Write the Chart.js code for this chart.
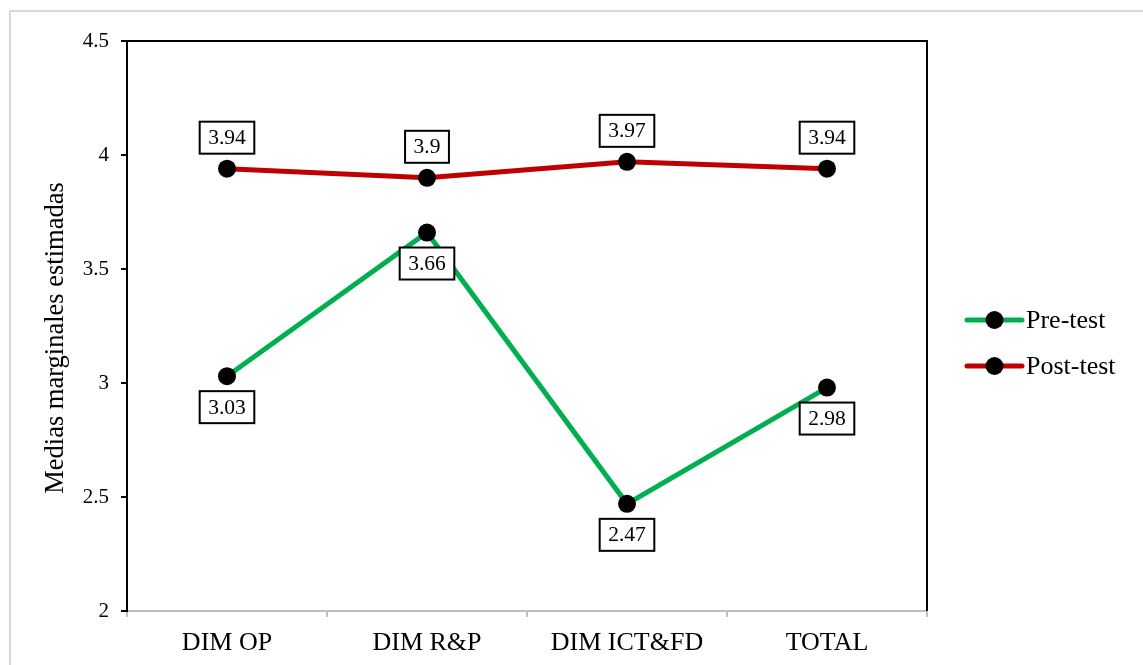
<!DOCTYPE html>
<html>
<head>
<meta charset="utf-8">
<script src="https://cdn.jsdelivr.net/npm/chart.js@4/dist/chart.umd.min.js"></script>
<style>
  html, body { margin: 0; padding: 0; background: #fff; }
  #wrap { width: 1143px; height: 665px; position: relative; }
</style>
</head>
<body>
<div id="wrap"><canvas id="c" width="1143" height="665"></canvas></div>
<script>
const categories = ['DIM OP', 'DIM R&P', 'DIM ICT&FD', 'TOTAL'];
const preTest = [3.03, 3.66, 2.47, 2.98];
const postTest = [3.94, 3.9, 3.97, 3.94];
const yTicks = [2, 2.5, 3, 3.5, 4, 4.5];
const yTitle = 'Medias marginales estimadas';

const SERIF = '"Liberation Serif", "Times New Roman", serif';

// Outer frame, plot border, axis title and boxed value labels
const decorations = {
  id: 'decorations',
  beforeDraw(chart) {
    const ctx = chart.ctx;
    ctx.save();
    ctx.fillStyle = '#fff';
    ctx.fillRect(0, 0, chart.width, chart.height);
    ctx.strokeStyle = '#d9d9d9';
    ctx.lineWidth = 2;
    ctx.strokeRect(10, 11, chart.width + 20, chart.height + 20);

    // vertical axis title, centred slightly below the plot middle
    const a = chart.chartArea;
    ctx.translate(56, (a.top + a.bottom) / 2 + 12);
    ctx.rotate(-Math.PI / 2);
    ctx.font = '26.5px ' + SERIF;
    ctx.fillStyle = '#000';
    ctx.textAlign = 'center';
    ctx.textBaseline = 'middle';
    ctx.fillText(yTitle, 0, 0);
    ctx.restore();
  },
  afterDatasetsDraw(chart) {
    const ctx = chart.ctx;
    const a = chart.chartArea;
    ctx.save();
    ctx.strokeStyle = '#000';
    ctx.lineWidth = 2;
    ctx.beginPath();
    ctx.moveTo(a.left, a.top);
    ctx.lineTo(a.right, a.top);
    ctx.lineTo(a.right, a.bottom);
    ctx.stroke();

    ctx.font = '21.5px ' + SERIF;
    ctx.textAlign = 'center';
    ctx.textBaseline = 'middle';
    chart.data.datasets.forEach((ds, di) => {
      const meta = chart.getDatasetMeta(di);
      const above = ds.labelPos === 'above';
      meta.data.forEach((pt, i) => {
        const txt = String(ds.data[i]);
        const w = ctx.measureText(txt).width + 17;
        const h = 32;
        const cx = pt.x;
        const cy = above ? pt.y - 15 - h / 2 : pt.y + 15 + h / 2;
        ctx.fillStyle = '#fff';
        ctx.fillRect(cx - w / 2, cy - h / 2, w, h);
        ctx.strokeStyle = '#000';
        ctx.lineWidth = 2;
        ctx.strokeRect(cx - w / 2, cy - h / 2, w, h);
        ctx.fillStyle = '#000';
        ctx.fillText(txt, cx, cy + 1);
      });
    });
    ctx.restore();
  },
  afterDraw(chart) {
    // Legend: line sample with dot marker, then series name
    const ctx = chart.ctx;
    ctx.save();
    ctx.font = '26px ' + SERIF;
    ctx.textBaseline = 'middle';
    ctx.textAlign = 'left';
    const x0 = 967, x1 = 1022;
    const rows = [320, 366];
    chart.data.datasets.forEach((ds, di) => {
      const y = rows[di];
      ctx.strokeStyle = ds.borderColor;
      ctx.lineWidth = 5;
      ctx.lineCap = 'round';
      ctx.beginPath();
      ctx.moveTo(x0, y);
      ctx.lineTo(x1, y);
      ctx.stroke();
      ctx.fillStyle = '#000';
      ctx.beginPath();
      ctx.arc((x0 + x1) / 2, y, 9, 0, Math.PI * 2);
      ctx.fill();
      ctx.fillText(ds.label, 1026, y + 1);
    });
    ctx.restore();
  }
};

new Chart(document.getElementById('c'), {
  type: 'line',
  data: {
    labels: categories,
    datasets: [
      {
        label: 'Pre-test',
        data: preTest,
        borderColor: '#00b050',
        borderWidth: 5,
        pointBackgroundColor: '#000',
        pointBorderColor: '#000',
        pointRadius: 9,
        pointBorderWidth: 0,
        tension: 0,
        labelPos: 'below'
      },
      {
        label: 'Post-test',
        data: postTest,
        borderColor: '#c00000',
        borderWidth: 5,
        pointBackgroundColor: '#000',
        pointBorderColor: '#000',
        pointRadius: 9,
        pointBorderWidth: 0,
        tension: 0,
        labelPos: 'above'
      }
    ]
  },
  options: {
    responsive: false,
    animation: false,
    devicePixelRatio: 1,
    layout: { padding: { left: 0, top: 41, right: 216, bottom: 0 } },
    plugins: { legend: { display: false }, tooltip: { enabled: false } },
    scales: {
      x: {
        offset: true,
        grid: {
          offset: true,
          drawOnChartArea: false,
          drawTicks: true,
          tickLength: 6,
          color: '#bfbfbf',
          lineWidth: 2
        },
        border: { color: '#bfbfbf', width: 2 },
        ticks: {
          color: '#000',
          padding: 11,
          font: { family: SERIF, size: 26 },
          maxRotation: 0
        },
        afterFit(scale) { scale.height = 54; }
      },
      y: {
        min: 2,
        max: 4.5,
        afterBuildTicks(scale) { scale.ticks = yTicks.map(v => ({ value: v })); },
        grid: {
          drawOnChartArea: false,
          drawTicks: true,
          tickLength: 6,
          color: '#000',
          lineWidth: 2
        },
        border: { color: '#000', width: 2 },
        ticks: {
          color: '#000',
          padding: 12,
          font: { family: SERIF, size: 21 },
          callback: v => String(v)
        },
        afterFit(scale) { scale.width = 127; }
      }
    }
  },
  plugins: [decorations]
});
</script>
</body>
</html>
